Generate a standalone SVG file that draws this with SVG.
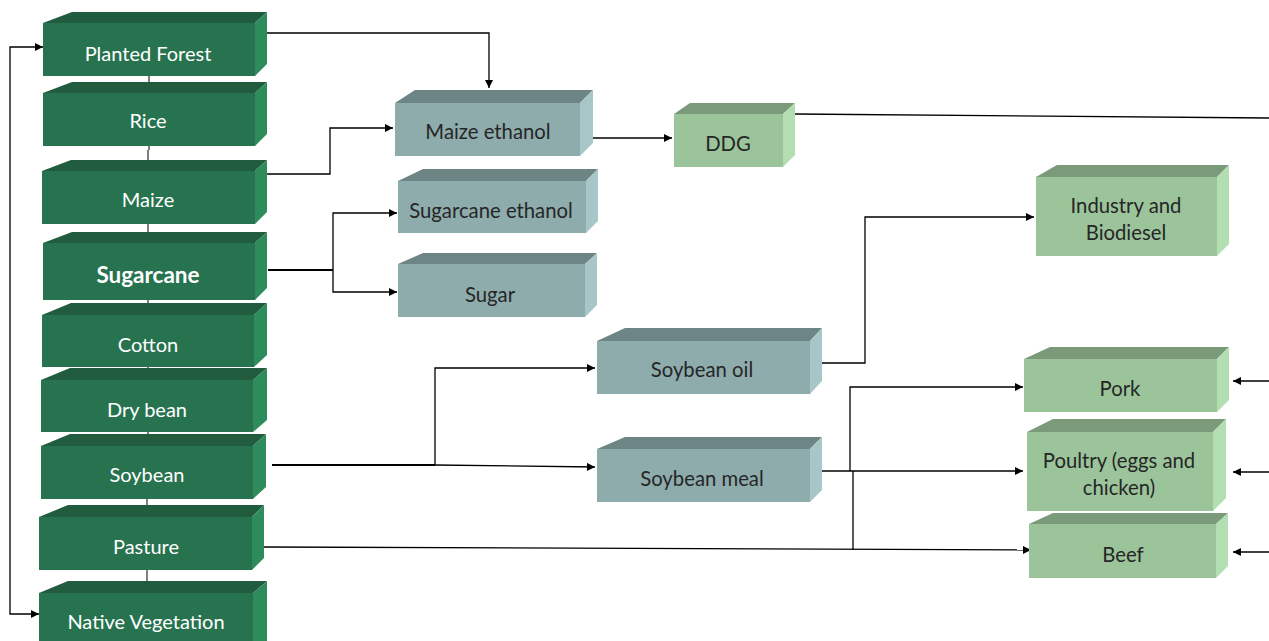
<svg xmlns="http://www.w3.org/2000/svg" width="1269" height="641" viewBox="0 0 1269 641">
<style>
.gf{fill:#277350}.gt{fill:#215c3e}.gs{fill:#2e8b5c}
.bf{fill:#8eacac}.bt{fill:#6e8585}.bs{fill:#a6c6c8}
.lf{fill:#9bc49b}.lt{fill:#7a9a7a}.ls{fill:#b2deb2}
.wt{fill:#ffffff;font-family:Lato,"Open Sans",sans-serif;font-size:20px;text-anchor:middle}
.dt{fill:#262626;font-family:Lato,"Open Sans",sans-serif;font-size:20.3px;text-anchor:middle}
.ln{fill:none;stroke:#000;stroke-width:1.3}
.ch{fill:none;stroke:#555;stroke-width:1.5}
</style>
<defs>
<marker id="ah" viewBox="0 0 10 10" refX="10" refY="5" markerWidth="9" markerHeight="8" markerUnits="userSpaceOnUse" orient="auto-start-reverse">
<path d="M0,0 L10,5 L0,10 z" fill="#000"/>
</marker>
</defs>
<g id="connectors">
<path class="ch" d="M149,60 V150 M148,150 V440 M147,440 V600"/>
<path class="ln" d="M43,47 H10 V614 H39" marker-start="url(#ah)" marker-end="url(#ah)"/>
<path class="ln" d="M267,33 H489 V88" marker-end="url(#ah)"/>
<path class="ln" d="M267,174 H330 V128 H393" marker-end="url(#ah)"/>
<path class="ln" d="M268,270 H333" style="stroke-width:2"/>
<path class="ln" d="M333,270 V213 H397" marker-end="url(#ah)"/>
<path class="ln" d="M333,270 V292 H397" marker-end="url(#ah)"/>
<path class="ln" d="M593,138 H672" marker-end="url(#ah)"/>
<path class="ln" d="M795,114 L1269,118"/>
<path class="ln" d="M272,465 H435" style="stroke-width:2"/>
<path class="ln" d="M435,465 V368 H595" marker-end="url(#ah)"/>
<path class="ln" d="M435,465 L595,467" marker-end="url(#ah)"/>
<path class="ln" d="M822,363 H865 V217 H1034" marker-end="url(#ah)"/>
<path class="ln" d="M822,471 H1023" marker-end="url(#ah)"/>
<path class="ln" d="M850,471 V387 H1023" marker-end="url(#ah)"/>
<path class="ln" d="M853,471 V550"/>
<path class="ln" d="M264,547 L1031,550" marker-end="url(#ah)"/>
<path class="ln" d="M1269,381 H1233" marker-end="url(#ah)"/>
<path class="ln" d="M1269,472 H1233" marker-end="url(#ah)"/>
<path class="ln" d="M1269,552 H1233" marker-end="url(#ah)"/>
</g>
<g id="planted-forest">
<polygon class="gt" points="43,23 72,12 267,12 255,23"/>
<polygon class="gs" points="255,23 267,12 267,64 255,76"/>
<rect class="gf" x="43" y="23" width="212" height="53"/>
<text class="wt" x="148" y="61">Planted Forest</text>
</g>
<g id="rice">
<polygon class="gt" points="43,93 72,82 267,82 255,93"/>
<polygon class="gs" points="255,93 267,82 267,134 255,146"/>
<rect class="gf" x="43" y="93" width="212" height="53"/>
<text class="wt" x="148" y="128">Rice</text>
</g>
<g id="maize">
<polygon class="gt" points="42,171 71,160 267,160 255,171"/>
<polygon class="gs" points="255,171 267,160 267,212 255,224"/>
<rect class="gf" x="42" y="171" width="213" height="53"/>
<text class="wt" x="148" y="207">Maize</text>
</g>
<g id="sugarcane">
<polygon class="gt" points="43,243 72,232 267,232 255,243"/>
<polygon class="gs" points="255,243 267,232 267,288 255,300"/>
<rect class="gf" x="43" y="243" width="212" height="57"/>
<text class="wt" x="148" y="283" style="font-weight:bold;font-size:22.5px">Sugarcane</text>
</g>
<g id="cotton">
<polygon class="gt" points="42,315 71,303 267,303 254,315"/>
<polygon class="gs" points="254,315 267,303 267,355 254,367"/>
<rect class="gf" x="42" y="315" width="212" height="52"/>
<text class="wt" x="148" y="352">Cotton</text>
</g>
<g id="dry-bean">
<polygon class="gt" points="41,380 70,368 267,368 253,380"/>
<polygon class="gs" points="253,380 267,368 267,420 253,432"/>
<rect class="gf" x="41" y="380" width="212" height="52"/>
<text class="wt" x="147" y="417">Dry bean</text>
</g>
<g id="soybean">
<polygon class="gt" points="41,446 70,434 266,434 253,446"/>
<polygon class="gs" points="253,446 266,434 266,487 253,499"/>
<rect class="gf" x="41" y="446" width="212" height="53"/>
<text class="wt" x="147" y="482">Soybean</text>
</g>
<g id="pasture">
<polygon class="gt" points="39,517 68,505 264,505 252,517"/>
<polygon class="gs" points="252,517 264,505 264,558 252,570"/>
<rect class="gf" x="39" y="517" width="213" height="53"/>
<text class="wt" x="146" y="554">Pasture</text>
</g>
<g id="native-vegetation">
<polygon class="gt" points="39,593 68,581 267,581 253,593"/>
<polygon class="gs" points="253,593 267,581 267,641 253,641"/>
<rect class="gf" x="39" y="593" width="214" height="48"/>
<text class="wt" x="146" y="629">Native Vegetation</text>
</g>
<g id="maize-ethanol">
<polygon class="bt" points="395,103 415,90 593,90 580,103"/>
<polygon class="bs" points="580,103 593,90 593,143 580,156"/>
<rect class="bf" x="395" y="103" width="185" height="53"/>
<text class="dt" x="488" y="139">Maize ethanol</text>
</g>
<g id="sugarcane-ethanol">
<polygon class="bt" points="398,181 423,169 598,169 586,181"/>
<polygon class="bs" points="586,181 598,169 598,221 586,233"/>
<rect class="bf" x="398" y="181" width="188" height="52"/>
<text class="dt" x="491" y="218">Sugarcane ethanol</text>
</g>
<g id="sugar">
<polygon class="bt" points="398,264 423,253 597,253 585,264"/>
<polygon class="bs" points="585,264 597,253 597,305 585,317"/>
<rect class="bf" x="398" y="264" width="187" height="53"/>
<text class="dt" x="490" y="302">Sugar</text>
</g>
<g id="ddg">
<polygon class="lt" points="674,114 690,103 795,103 783,114"/>
<polygon class="ls" points="783,114 795,103 795,155 783,167"/>
<rect class="lf" x="674" y="114" width="109" height="53"/>
<text class="dt" x="728" y="151">DDG</text>
</g>
<g id="industry-biodiesel">
<polygon class="lt" points="1036,177 1057,165 1229,165 1217,177"/>
<polygon class="ls" points="1217,177 1229,165 1229,244 1217,256"/>
<rect class="lf" x="1036" y="177" width="181" height="79"/>
<text class="dt" x="1126" y="213">Industry and</text>
<text class="dt" x="1126" y="240">Biodiesel</text>
</g>
<g id="soybean-oil">
<polygon class="bt" points="597,341 625,328 822,328 810,341"/>
<polygon class="bs" points="810,341 822,328 822,381 810,394"/>
<rect class="bf" x="597" y="341" width="213" height="53"/>
<text class="dt" x="702" y="377">Soybean oil</text>
</g>
<g id="soybean-meal">
<polygon class="bt" points="597,449 625,437 822,437 810,449"/>
<polygon class="bs" points="810,449 822,437 822,490 810,502"/>
<rect class="bf" x="597" y="449" width="213" height="53"/>
<text class="dt" x="702" y="486">Soybean meal</text>
</g>
<g id="pork">
<polygon class="lt" points="1024,359 1050,347 1229,347 1217,359"/>
<polygon class="ls" points="1217,359 1229,347 1229,400 1217,412"/>
<rect class="lf" x="1024" y="359" width="193" height="53"/>
<text class="dt" x="1120" y="396">Pork</text>
</g>
<g id="poultry">
<polygon class="lt" points="1027,432 1053,419 1226,419 1213,432"/>
<polygon class="ls" points="1213,432 1226,419 1226,498 1213,511"/>
<rect class="lf" x="1027" y="432" width="186" height="79"/>
<text class="dt" x="1119" y="468">Poultry (eggs and</text>
<text class="dt" x="1119" y="495">chicken)</text>
</g>
<g id="beef">
<polygon class="lt" points="1029,524 1053,513 1228,513 1216,524"/>
<polygon class="ls" points="1216,524 1228,513 1228,566 1216,578"/>
<rect class="lf" x="1029" y="524" width="187" height="54"/>
<text class="dt" x="1123" y="562">Beef</text>
</g>
</svg>
